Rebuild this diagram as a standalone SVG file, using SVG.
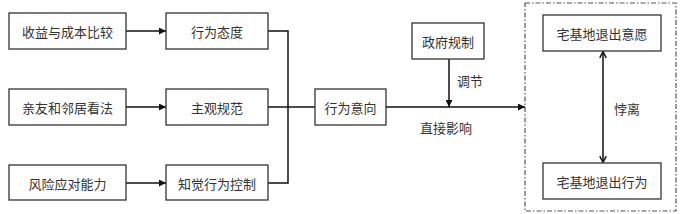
<svg xmlns="http://www.w3.org/2000/svg" width="700" height="214" viewBox="0 0 700 214">
<style>
.box{fill:#fff;stroke:#333;stroke-width:1.3}
.t{font-family:"Noto Sans CJK SC","Noto Sans",sans-serif;font-size:13px;fill:#333;text-anchor:middle;dominant-baseline:central}
.ln{fill:none;stroke:#111;stroke-width:1.5}
</style>
<defs>
<marker id="ah" viewBox="0 0 10 10" refX="10" refY="5" markerWidth="7" markerHeight="7" orient="auto-start-reverse" markerUnits="userSpaceOnUse">
<path d="M0,0 L10,5 L0,10 z" fill="#111"/>
</marker>
<marker id="oh" viewBox="0 0 10 10" refX="9" refY="5" markerWidth="8" markerHeight="8" orient="auto-start-reverse" markerUnits="userSpaceOnUse">
<path d="M1,1 L9,5 L1,9" fill="none" stroke="#111" stroke-width="1.8"/>
</marker>
</defs>
<rect width="700" height="214" fill="#fff"/>
<rect x="525" y="3" width="151" height="208" fill="none" stroke="#555" stroke-width="1.2" stroke-dasharray="5,2,1.5,2"/>
<g id="connectors">
<line class="ln" x1="126" y1="31" x2="166" y2="31" marker-end="url(#ah)"/>
<line class="ln" x1="126" y1="107" x2="166" y2="107" marker-end="url(#ah)"/>
<line class="ln" x1="126" y1="183" x2="166" y2="183" marker-end="url(#ah)"/>
<polyline class="ln" points="268,31 288,31 288,183 268,183"/>
<line class="ln" x1="268" y1="107" x2="315" y2="107"/>
<line class="ln" x1="386" y1="107" x2="525" y2="107" marker-end="url(#ah)"/>
<line class="ln" x1="449" y1="59" x2="449" y2="107" marker-end="url(#ah)"/>
<line class="ln" x1="603" y1="51.5" x2="603" y2="162.5" marker-start="url(#oh)" marker-end="url(#oh)"/>
<text class="t" x="470" y="80">调节</text>
<text class="t" x="446" y="127">直接影响</text>
<text class="t" x="627" y="108">悖离</text>
</g>
<g id="n1"><rect class="box" x="9" y="13" width="117" height="36"/><text class="t" x="67.5" y="31">收益与成本比较</text></g>
<g id="n2"><rect class="box" x="9" y="89" width="117" height="36"/><text class="t" x="67.5" y="107">亲友和邻居看法</text></g>
<g id="n3"><rect class="box" x="9" y="165" width="117" height="35"/><text class="t" x="67.5" y="183">风险应对能力</text></g>
<g id="n4"><rect class="box" x="166" y="13" width="102" height="36"/><text class="t" x="217" y="31">行为态度</text></g>
<g id="n5"><rect class="box" x="166" y="89" width="102" height="36"/><text class="t" x="217" y="107">主观规范</text></g>
<g id="n6"><rect class="box" x="166" y="165" width="102" height="35"/><text class="t" x="217" y="183">知觉行为控制</text></g>
<g id="n7"><rect class="box" x="315" y="89" width="71" height="36"/><text class="t" x="350.5" y="107">行为意向</text></g>
<g id="n8"><rect class="box" x="412" y="23" width="72" height="36"/><text class="t" x="448" y="41">政府规制</text></g>
<g id="n9"><rect class="box" x="543" y="15" width="118" height="36"/><text class="t" x="602" y="33">宅基地退出意愿</text></g>
<g id="n10"><rect class="box" x="543" y="163" width="118" height="36"/><text class="t" x="602" y="181">宅基地退出行为</text></g>
</svg>
